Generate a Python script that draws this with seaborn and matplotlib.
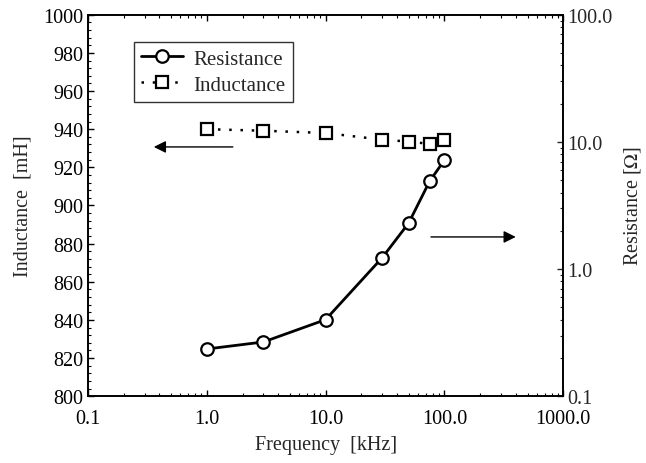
import matplotlib
matplotlib.use('Agg')
import matplotlib.pyplot as plt
import seaborn as sns
import numpy as np
import pandas as pd
from matplotlib.ticker import FixedLocator, FormatStrFormatter, LogLocator, MultipleLocator

# data
freq = [1, 3, 10, 30, 50, 75, 100]  # kHz
inductance = [940.0, 939.2, 938.0, 934.5, 933.5, 932.3, 934.2]  # mH
resistance = [0.235, 0.267, 0.40, 1.23, 2.3, 4.9, 7.2]  # ohm

xticks = [0.1, 1.0, 10.0, 100.0, 1000.0]
ind_ticks = list(range(800, 1001, 20))
res_ticks = [0.1, 1.0, 10.0, 100.0]

df = pd.DataFrame({'freq': freq, 'L': inductance, 'R': resistance})

sns.set_style('ticks')
plt.rcParams['font.family'] = ['Liberation Serif', 'DejaVu Serif']
plt.rcParams['font.size'] = 14.5
plt.rcParams['mathtext.fontset'] = 'stix'

fig, ax = plt.subplots(figsize=(6.46, 4.64), dpi=100)
fig.subplots_adjust(left=0.136, right=0.872, top=0.966, bottom=0.144)
ax2 = ax.twinx()

sns.lineplot(data=df, x='freq', y='L', ax=ax, color='black', lw=1.8,
             marker='s', markersize=8.5, markerfacecolor='white',
             markeredgecolor='black', markeredgewidth=1.6)
ax.lines[-1].set_linestyle((0, (1, 3.5)))
sns.lineplot(data=df, x='freq', y='R', ax=ax2, color='black', lw=2,
             marker='o', markersize=9, markerfacecolor='white',
             markeredgecolor='black', markeredgewidth=1.6)

ax.set_xscale('log')
ax.set_xlim(0.1, 1000)
ax.set_ylim(800, 1000)
ax2.set_yscale('log')
ax2.set_ylim(0.1, 100)

ax.xaxis.set_major_locator(FixedLocator(xticks))
ax.xaxis.set_major_formatter(FormatStrFormatter('%.1f'))
ax.xaxis.set_minor_locator(LogLocator(base=10, subs=np.arange(2, 10)))
ax.yaxis.set_major_locator(FixedLocator(ind_ticks))
ax.yaxis.set_minor_locator(MultipleLocator(4))
ax2.yaxis.set_major_locator(FixedLocator(res_ticks))
ax2.yaxis.set_major_formatter(FormatStrFormatter('%.1f'))
ax2.yaxis.set_minor_locator(LogLocator(base=10, subs=np.arange(2, 10)))
ax2.yaxis.set_minor_formatter(plt.NullFormatter())

ax.tick_params(axis='both', which='both', direction='in', top=True, colors='black')
ax.tick_params(which='major', length=4, width=1)
ax.tick_params(which='minor', length=2, width=0.8)
ax.tick_params(axis='x', which='major', pad=9)
ax.tick_params(axis='y', which='major', pad=3)
ax2.tick_params(which='major', direction='in', length=4, width=1, pad=3)
ax2.tick_params(which='minor', direction='in', length=2, width=0.8)

for a in (ax, ax2):
    for s in a.spines.values():
        s.set_visible(True)
        s.set_color('black')
        s.set_linewidth(1.2)

ax.set_xlabel('Frequency  [kHz]', labelpad=5)
ax.set_ylabel('Inductance  [mH]', labelpad=8)
ax2.set_ylabel(r'Resistance [$\Omega$]', labelpad=7)

# arrows pointing to each axis
ax.annotate('', xy=(0.34, 930.7), xytext=(1.75, 930.7),
            arrowprops=dict(arrowstyle='-|>', color='black', lw=1, mutation_scale=18))
ax.annotate('', xy=(420, 883.5), xytext=(73, 883.5),
            arrowprops=dict(arrowstyle='-|>', color='black', lw=1, mutation_scale=18))

h1 = ax2.lines[0]
h2 = ax.lines[0]
leg = ax.legend([h1, h2], ['Resistance', 'Inductance'], loc='upper left',
                bbox_to_anchor=(0.097, 0.929), borderaxespad=0, frameon=True,
                fancybox=False, handlelength=2.0, borderpad=0.35,
                labelspacing=0.3, handletextpad=0.5, fontsize=15)
leg.get_frame().set_edgecolor('black')
leg.get_frame().set_linewidth(1)
ax.set_zorder(ax2.get_zorder() + 1)
ax.patch.set_visible(False)

fig.savefig('out.png', dpi=100)
